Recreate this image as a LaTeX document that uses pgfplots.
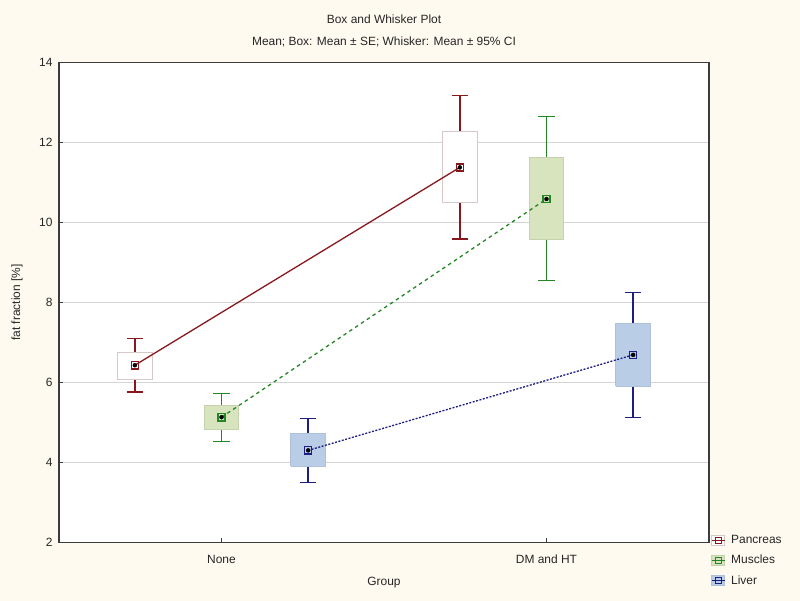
\documentclass[border=0pt]{standalone}
\usepackage{pgfplots}
\pgfplotsset{compat=1.18}
\usepackage{fontspec}
\setmainfont{Liberation Sans}
\definecolor{cream}{RGB}{254,250,240}
\definecolor{framegray}{RGB}{60,60,60}
\definecolor{gridgray}{RGB}{212,212,212}
\definecolor{pancreas}{RGB}{135,25,30}
\definecolor{pancbox}{RGB}{215,200,200}
\definecolor{muscles}{RGB}{35,135,35}
\definecolor{muscbox}{RGB}{215,228,190}
\definecolor{liver}{RGB}{30,30,130}
\definecolor{livbox}{RGB}{185,205,230}

% whiskers: mean +/- 95% CI, drawn as error bars under the boxes
\pgfplotsset{
  whisk/.style={forget plot, only marks, mark=none,
    error bars/.cd, y dir=both, y explicit, error mark=|,
    error bar style={draw=#1, solid, line width=1.4bp},
    error mark options={draw=#1, solid, line width=1.1bp, mark size=8.3bp}},
  sebox/.style 2 args={forget plot, fill=#1, draw=#2, line width=1bp, solid, mark=none},
  legbox/.style n args={3}{
    legend image code/.code={
      \draw[draw=#2, fill=#1, line width=0.8bp, solid] (0bp,-5bp) rectangle (13bp,5bp);
      \draw[draw=#3, line width=1bp, solid] (0bp,0bp) -- (13bp,0bp);
      \draw[draw=#3, line width=1bp, solid] (3.5bp,-3bp) rectangle (9.5bp,3bp);
    }
  },
  meanline/.style={line width=1.3bp, mark=square, mark size=3.6bp,
    mark options={solid, fill=none, line width=1.4bp}}
}

\begin{document}
\begin{tikzpicture}
\fill[cream] (0,0) rectangle (800bp,601bp);
\begin{axis}[
  at={(59bp,58.7bp)}, anchor=south west,
  width=650bp, height=479.6bp, scale only axis,
  xmin=0.5, xmax=2.5, ymin=2, ymax=14,
  xtick={1,2}, xticklabels={None, DM and HT},
  ytick={2,4,...,14},
  ymajorgrids, grid style={draw=gridgray, line width=1bp},
  axis background/.style={fill=white},
  axis line style={draw=framegray, line width=1.5bp},
  tick style={draw=framegray, line width=0.8bp},
  tick align=inside, tick pos=left, major tick length=4bp,
  /pgf/number format/assume math mode=true,
  tick label style={font=\fontsize{12}{14}\selectfont, text=black!85},
  yticklabel style={xshift=-3bp},
  xticklabel style={yshift=-9bp},
  label style={font=\fontsize{12}{14}\selectfont, text=black!85},
  xlabel={Group}, ylabel={fat fraction [\%]},
  xlabel style={at={(axis description cs:0.5,0)}, anchor=center, yshift=-40bp},
  ylabel style={at={(axis description cs:0,0.5)}, anchor=center, rotate=0, yshift=42bp},
  title={Box and Whisker Plot\\[8bp]Mean; Box: Mean ± SE; Whisker: Mean ± 95\% CI},
  title style={font=\fontsize{12}{14}\selectfont, text=black!85, align=center, anchor=south, at={(axis description cs:0.5,1)}, yshift=6bp},
  legend style={draw=none, fill=none, at={(rel axis cs:1,0)}, anchor=north west,
    xshift=1bp, yshift=10bp, font=\fontsize{12}{14}\selectfont, text=black!85,
    row sep=6bp, inner sep=1bp, /tikz/every odd column/.append style={column sep=4bp}},
  legend cell align=left,
  clip=false,
]
% whiskers (mean, +CI, -CI)
\addplot[whisk=pancreas] coordinates {(0.7333,6.43) += (0,0.67) -= (0,0.67) (1.7333,11.38) += (0,1.80) -= (0,1.79)};
\addplot[whisk=muscles] coordinates {(1,5.13) += (0,0.60) -= (0,0.60) (2,10.59) += (0,2.07) -= (0,2.05)};
\addplot[whisk=liver] coordinates {(1.2667,4.30) += (0,0.80) -= (0,0.81) (2.2667,6.69) += (0,1.55) -= (0,1.56)};

% boxes (mean +/- SE), width 0.1077
\addplot[sebox={white}{pancbox}] coordinates {(0.6795,6.07) (0.7872,6.07) (0.7872,6.76) (0.6795,6.76) (0.6795,6.07)};
\addplot[sebox={white}{pancbox}] coordinates {(1.6795,10.50) (1.7872,10.50) (1.7872,12.28) (1.6795,12.28) (1.6795,10.50)};
\addplot[sebox={muscbox}{muscbox!92!black}] coordinates {(0.9462,4.83) (1.0538,4.83) (1.0538,5.43) (0.9462,5.43) (0.9462,4.83)};
\addplot[sebox={muscbox}{muscbox!92!black}] coordinates {(1.9462,9.57) (2.0538,9.57) (2.0538,11.62) (1.9462,11.62) (1.9462,9.57)};
\addplot[sebox={livbox}{livbox!94!black}] coordinates {(1.2128,3.90) (1.3205,3.90) (1.3205,4.71) (1.2128,4.71) (1.2128,3.90)};
\addplot[sebox={livbox}{livbox!94!black}] coordinates {(2.2128,5.91) (2.3205,5.91) (2.3205,7.47) (2.2128,7.47) (2.2128,5.91)};

% means
\addplot[pancreas, meanline, legbox={white}{pancbox}{pancreas}]
  coordinates {(0.7333,6.43) (1.7333,11.38)};
\addlegendentry{Pancreas}
\addplot[muscles, meanline, dash pattern=on 3.5bp off 3.5bp, legbox={muscbox}{muscbox!92!black}{muscles}]
  coordinates {(1,5.13) (2,10.59)};
\addlegendentry{Muscles}
\addplot[liver, meanline, dash pattern=on 2bp off 1.5bp, legbox={livbox}{livbox!94!black}{liver}]
  coordinates {(1.2667,4.30) (2.2667,6.69)};
\addlegendentry{Liver}
\end{axis}
\pgfresetboundingbox
\useasboundingbox (0,0) rectangle (800bp,601bp);
\end{tikzpicture}
\end{document}
